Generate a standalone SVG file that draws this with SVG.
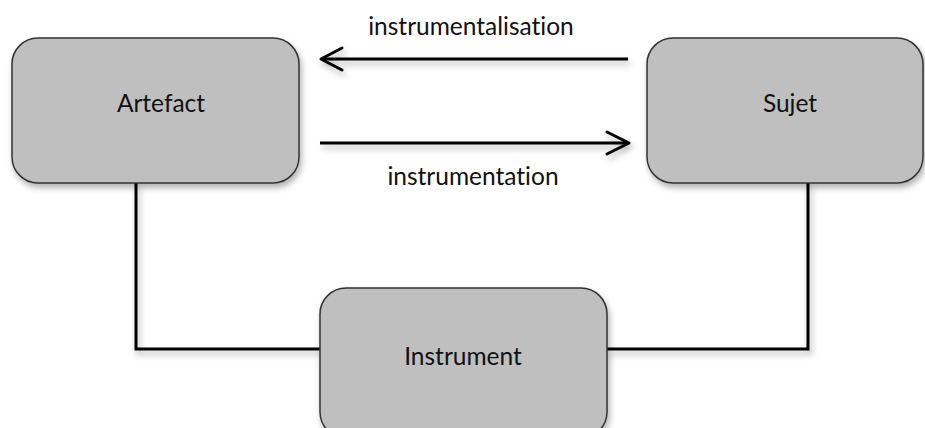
<svg xmlns="http://www.w3.org/2000/svg" width="925" height="428" viewBox="0 0 925 428">
<style>
.box{fill:#bfbfbf;stroke:#333;stroke-width:1.5}
.lbl{font-family:Lato,"Open Sans","Liberation Sans",sans-serif;font-size:24.5px;fill:#111;text-anchor:middle;font-variant-ligatures:none;font-feature-settings:"liga" 0,"dlig" 0}
.wire{fill:none;stroke:#000;stroke-width:3}
.head{fill:none;stroke:#000;stroke-width:3;stroke-linecap:round;stroke-linejoin:round}
</style>
<defs>
<filter id="sh" x="-10%" y="-10%" width="130%" height="140%">
<feDropShadow dx="2" dy="4" stdDeviation="3" flood-color="#000" flood-opacity="0.3"/>
</filter>
</defs>
<rect width="925" height="428" fill="#fff"/>
<g id="connectors" filter="url(#sh)">
<polyline class="wire" points="136,183 136,349 320,349"/>
<polyline class="wire" points="607,349 808,349 808,183"/>
<line class="wire" x1="322" y1="59" x2="628" y2="59"/>
<polyline class="head" points="342,48 321,59 342,70"/>
<line class="wire" x1="320" y1="143" x2="628" y2="143"/>
<polyline class="head" points="607,132 629,143 607,154"/>
</g>
<g id="label-instrumentalisation"><text class="lbl" x="471" y="35">instrumentalisation</text></g>
<g id="label-instrumentation"><text class="lbl" x="473" y="185">instrumentation</text></g>
<g id="node-artefact">
<rect class="box" x="12" y="38" width="287" height="145" rx="26" filter="url(#sh)"/>
<text class="lbl" x="161" y="112">Artefact</text>
</g>
<g id="node-sujet">
<rect class="box" x="647" y="38" width="276" height="145" rx="26" filter="url(#sh)"/>
<text class="lbl" x="790" y="112">Sujet</text>
</g>
<g id="node-instrument">
<rect class="box" x="320" y="288" width="287" height="150" rx="26" filter="url(#sh)"/>
<text class="lbl" x="463" y="365">Instrument</text>
</g>
</svg>
